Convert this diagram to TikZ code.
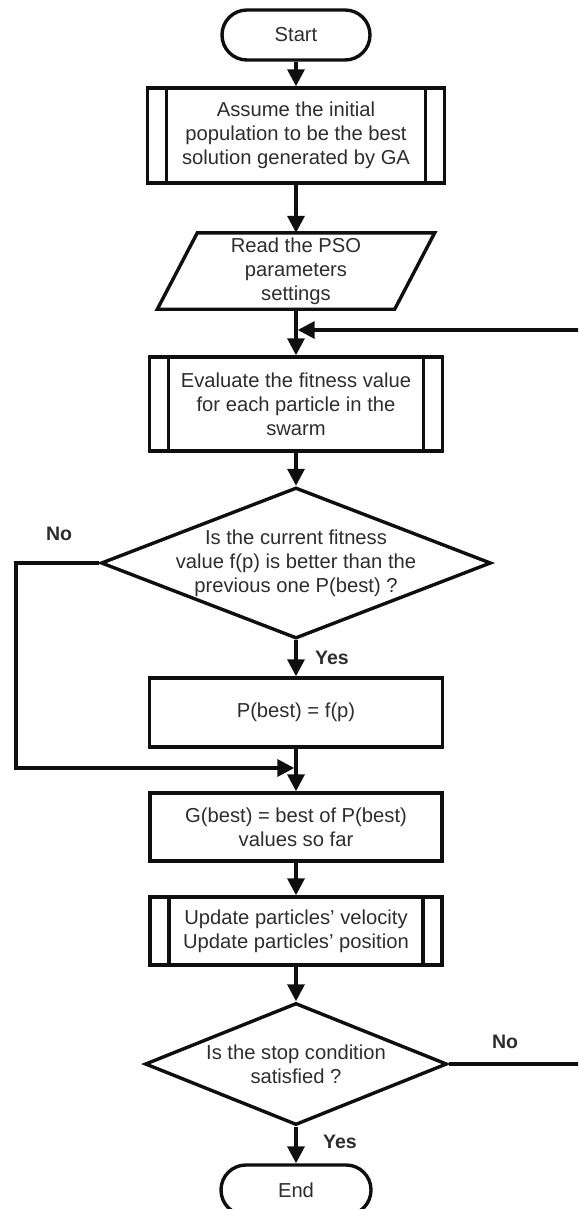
\documentclass[tikz,border=0pt]{standalone}
\usepackage{fontspec}
\setmainfont{Liberation Sans}
\usetikzlibrary{arrows.meta,shapes.geometric}
\definecolor{ink}{RGB}{15,15,15}
\definecolor{txt}{RGB}{45,45,45}
\begin{document}
\begin{tikzpicture}[x=1pt,y=-1pt,
  every node/.style={font=\fontsize{20.2}{23.8}\selectfont, text=txt, align=center, inner sep=0pt},
  ln/.style={draw=ink, line width=3.4pt},
  flow/.style={ln, -{Triangle[length=17pt,width=17pt]}},
  terminal/.style={ln, rectangle, rounded corners=24.9pt, minimum width=148pt, minimum height=50pt},
  procbox/.style={ln, rectangle},
  subproc/.style={procbox, path picture={
      \draw[ink, line width=3.4pt]
        ([xshift=19pt]path picture bounding box.north west) -- ([xshift=19pt]path picture bounding box.south west)
        ([xshift=-19pt]path picture bounding box.north east) -- ([xshift=-19pt]path picture bounding box.south east);}},
  decision/.style={ln, diamond, inner sep=0pt},
  tag/.style={font=\fontsize{19.5}{22}\selectfont\bfseries}
]
\useasboundingbox (0,0) rectangle (578,1209);
\clip (0,0) rectangle (578,1209);

% process steps
\node[terminal] (start) at (296,35) {Start};
\node[subproc, minimum width=297pt, minimum height=95pt] (assume) at (296,135.5)
  {Assume the initial\\population to be the best\\solution generated by GA};
\node[minimum width=237pt, minimum height=76pt] (read) at (296,271)
  {Read the PSO\\parameters\\settings};
\draw[ln] ([xshift=-20pt]read.south west) -- ([xshift=20pt]read.north west)
  -- ([xshift=20pt]read.north east) -- ([xshift=-20pt]read.south east) -- cycle;
\coordinate (fb) at (296,330);
\node[subproc, minimum width=293pt, minimum height=94pt] (eval) at (296,404)
  {Evaluate the fitness value\\for each particle in the\\swarm};
\node[decision, minimum width=390pt, minimum height=151pt,
  label={[align=center]center:Is the current fitness\\value f(p) is better than the\\previous one P(best) ?}]
  (dec1) at (296,563) {};
\node[procbox, minimum width=293pt, minimum height=69pt] (pbest) at (296,712.5) {P(best) = f(p)};
\coordinate (j2) at (296,768);
\node[procbox, minimum width=292pt, minimum height=68pt] (gbest) at (296,827)
  {G(best) = best of P(best)\\values so far};
\node[subproc, minimum width=292pt, minimum height=68pt] (update) at (296,931)
  {Update particles' velocity\\Update particles' position};
\node[decision, minimum width=302pt, minimum height=122pt,
  label={[align=center]center:Is the stop condition\\satisfied ?}]
  (dec2) at (296,1064) {};
\node[terminal, minimum width=150pt] (end) at (296,1190) {End};

% branch labels
\node[tag] (no1) at (59,534) {No};
\node[tag] (yes1) at (332,658) {Yes};
\node[tag] (no2) at (505,1042) {No};
\node[tag] (yes2) at (340,1142) {Yes};

% routing points for the loops
\coordinate (lx) at (16,563);
\coordinate (rx) at (585,1064);

% connectors
\draw[flow] (start) -- (assume);
\draw[flow] (assume) -- (read);
\draw[flow] (read) -- (eval);
\draw[flow, shorten >=1.7pt] (dec2.east) -- (rx) |- (fb);
\draw[flow] (eval) -- (dec1);
\draw[flow] (dec1) -- (pbest);
\draw[flow, shorten >=1.7pt] (dec1.west) -- (lx) |- (j2);
\draw[flow] (pbest) -- (gbest);
\draw[flow] (gbest) -- (update);
\draw[flow] (update) -- (dec2);
\draw[flow] (dec2) -- (end);
\end{tikzpicture}
\end{document}
